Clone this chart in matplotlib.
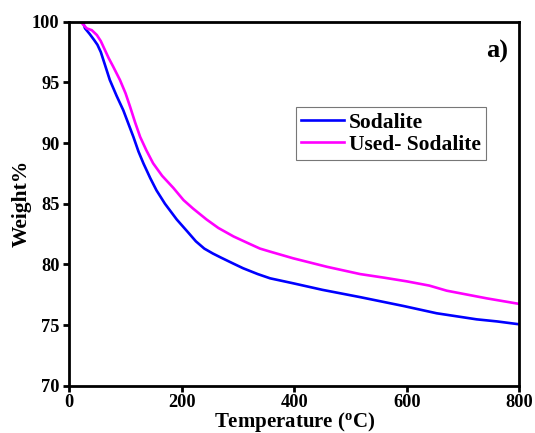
import matplotlib
matplotlib.use("Agg")
import matplotlib.pyplot as plt

plt.rcParams['font.family'] = ['Liberation Serif', 'DejaVu Serif']
plt.rcParams['font.weight'] = 'bold'
plt.rcParams['mathtext.fontset'] = 'custom'
plt.rcParams['mathtext.rm'] = 'Liberation Serif:bold'
plt.rcParams['mathtext.bf'] = 'Liberation Serif:bold'
plt.rcParams['mathtext.it'] = 'Liberation Serif:bold'

sod_T = [24, 28, 36, 44, 50, 56, 63, 72, 84, 96, 105, 114, 123, 132, 144, 155, 170, 191, 210, 225, 240, 255, 270, 290, 309, 335, 357, 398, 450, 517, 594, 653, 724, 760, 800]
sod_W = [100, 99.45, 99.0, 98.5, 98.1, 97.5, 96.5, 95.2, 93.9, 92.7, 91.6, 90.5, 89.3, 88.3, 87.1, 86.1, 85.0, 83.7, 82.7, 81.9, 81.3, 80.9, 80.55, 80.1, 79.68, 79.2, 78.85, 78.44, 77.9, 77.3, 76.57, 75.97, 75.47, 75.3, 75.06]

used_T = [20, 31, 40, 49, 56, 63, 70, 78, 90, 100, 108, 117, 126, 137, 149, 165, 185, 203, 220, 244, 265, 292, 320, 339, 357, 398, 458, 517, 560, 600, 640, 671, 742, 800]
used_W = [100, 99.45, 99.3, 98.9, 98.4, 97.7, 97.0, 96.3, 95.2, 94.1, 93.0, 91.7, 90.5, 89.4, 88.33, 87.3, 86.3, 85.3, 84.6, 83.7, 83.0, 82.3, 81.7, 81.3, 81.05, 80.5, 79.8, 79.2, 78.9, 78.6, 78.25, 77.83, 77.2, 76.74]

x_ticks = [0, 200, 400, 600, 800]
y_ticks = [70, 75, 80, 85, 90, 95, 100]

fig = plt.figure(figsize=(5.35, 4.33), dpi=100)
ax = fig.add_axes([69.3/535, 1 - 385.7/433, (519.3-69.3)/535, (385.7-21.7)/433])

ax.plot(sod_T, sod_W, color='#0000ff', lw=1.9, label='Sodalite')
ax.plot(used_T, used_W, color='#ff00ff', lw=1.9, label='Used- Sodalite')

ax.set_xlim(0, 800)
ax.set_ylim(70, 100)
ax.set_xticks(x_ticks)
ax.set_yticks(y_ticks)
for s in ax.spines.values():
    s.set_linewidth(2.0)
ax.tick_params(direction='out', length=4.5, width=2.0, labelsize=13.2, pad=2.5)
ax.tick_params(axis='x', pad=1.2)
for lab in ax.get_xticklabels() + ax.get_yticklabels():
    lab.set_fontweight('bold')

ax.set_xlabel('Temperature ($^{\\rm o}$C)', fontsize=15, fontweight='bold', labelpad=-0.8)
ax.set_ylabel('Weight%', fontsize=15.5, fontweight='bold', labelpad=0)

leg = ax.legend(loc='upper left', bbox_to_anchor=((296-69.3)/450, (385.7-107.3)/364),
                frameon=True, fancybox=False, edgecolor='#555555', fontsize=15.5,
                handlelength=2.0, handletextpad=0.2, borderpad=0.25, labelspacing=0.1,
                borderaxespad=0)
leg.get_frame().set_linewidth(0.8)
for t in leg.get_texts():
    t.set_fontweight('bold')

ax.text(0.975, 0.917, 'a)', transform=ax.transAxes, ha='right', va='center',
        fontsize=19, fontweight='bold')

fig.savefig('out.png', dpi=100)
